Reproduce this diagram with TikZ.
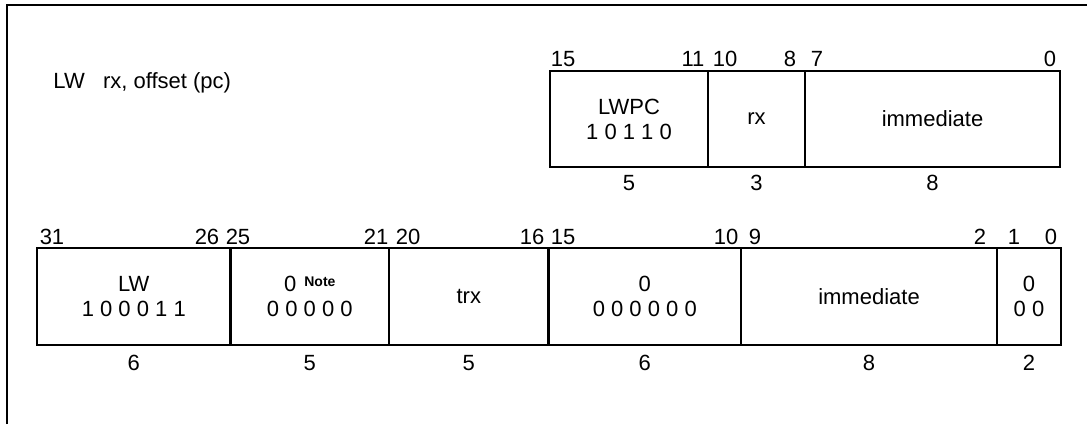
\documentclass[tikz,border=0pt]{standalone}
\usepackage{fontspec}
\setmainfont{Liberation Sans}
\usetikzlibrary{positioning}

\newcommand{\notetag}{{\fontsize{7}{7}\selectfont\bfseries Note}}

\begin{document}
\begin{tikzpicture}[
  x=0.5pt, y=-0.5pt,
  every node/.style={font=\fontsize{11}{12.5}\selectfont},
  field/.style={draw,line width=1.2pt,inner sep=0pt,outer sep=0pt,align=center,minimum width=#1},
  upper/.style={minimum height=48pt},
  lower/.style={minimum height=48.5pt},
  bitnum/.style={inner sep=0pt},
  fieldlen/.style={inner sep=0pt,text height=7.9pt,text depth=0pt},
  frame/.style={line width=1.3pt}
]
  \useasboundingbox (0,0) rectangle (1087,424);
  \draw[frame] (7,424) -- (7,5) -- (1087,5);

  \node[anchor=base west,inner sep=0pt] (title) at (53,88) {LW~~~rx, offset (pc)};

  % 16-bit form
  \node[field=79pt,upper,anchor=north west] (lwpc) at (550,71) {LWPC\\1 0 1 1 0};
  \node[field=48.5pt,upper,right=0pt of lwpc] (rx) {rx};
  \node[field=127.5pt,upper,right=0pt of rx] (imm16) {immediate};

  \foreach \lbl/\xx in {15/563,11/693,10/725,8/790,7/817,0/1050}
    \node[bitnum] (u\lbl) at (\xx,59) {\lbl};
  \foreach \cell/\len [count=\i] in {lwpc/5,rx/3,imm16/8}
    \node[fieldlen,below=3.6pt of \cell] (ulen\i) {\len};

  % 32-bit form
  \node[field=96.8pt,lower,anchor=north west] (lw) at (37,248) {LW\\1 0 0 0 1 1};
  \node[field=79.2pt,lower,right=0pt of lw] (rsv)
    {0\hspace{4pt}\raisebox{2.5pt}{\notetag}\\0 0 0 0 0};
  \node[field=79.8pt,lower,right=0pt of rsv] (trx) {trx};
  \node[field=96.2pt,lower,right=0pt of trx] (pad) {0\\0 0 0 0 0 0};
  \node[field=128pt,lower,right=0pt of pad] (imm32) {immediate};
  \node[field=32pt,lower,right=0pt of imm32] (low) {0\\0 0};

  \foreach \lbl/\xx in {31/52,26/207,25/238,21/376,20/408,16/532,15/563,10/726,9/755,2/980,1/1014,0/1051}
    \node[bitnum] (l\lbl) at (\xx,237) {\lbl};
  \foreach \cell/\len [count=\i] in {lw/6,rsv/5,trx/5,pad/6,imm32/8,low/2}
    \node[fieldlen,below=4.6pt of \cell] (llen\i) {\len};
\end{tikzpicture}
\end{document}
